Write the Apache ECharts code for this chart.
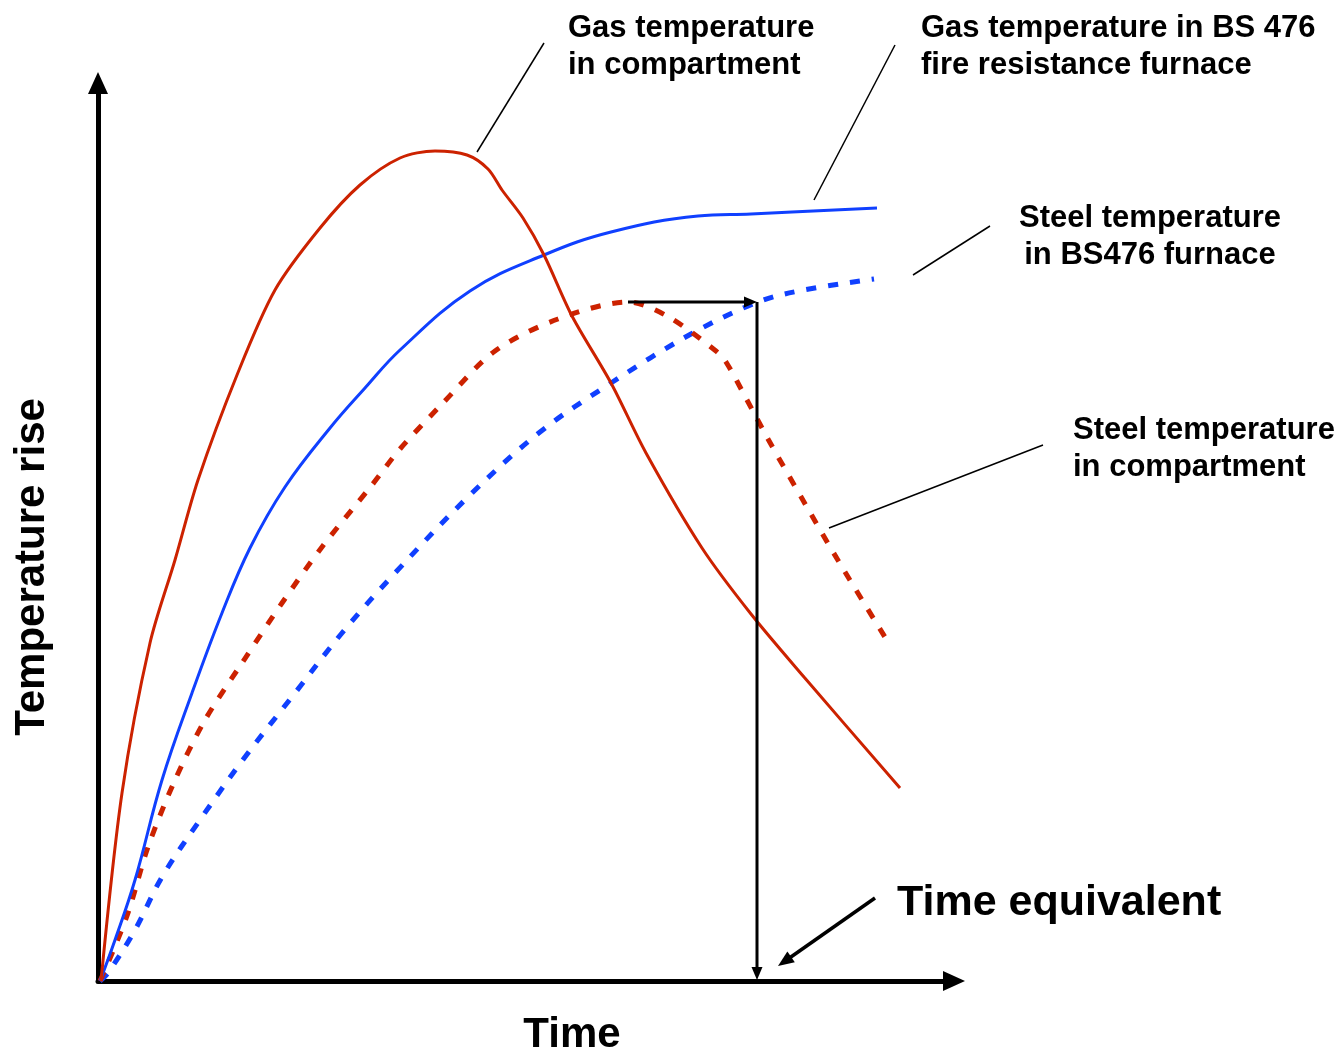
<!DOCTYPE html>
<html><head><meta charset="utf-8">
<script src="https://cdn.jsdelivr.net/npm/echarts@6/dist/echarts.min.js"></script>
<style>html,body{margin:0;padding:0;background:#fff}#c{width:1341px;height:1054px}</style>
</head><body><div id="c"></div>
<script>
// Data in arbitrary units (time, temperature rise)
const gasCompartment = [[0.3,0],[2.4,18.8],[5.2,33.8],[7.7,42.1],[10,50.1],[13.9,60.6],[17.7,69.1],[22.2,75.3],[26.2,79.6],[30.2,82.3],[33.7,83],[36.9,82.6],[39,81.2],[40.4,79.1],[42.5,76.3],[44.6,72.6],[47.4,66.5],[51.3,59.8],[54.8,52.8],[60.4,43.3],[65.3,36.7],[70.6,30.4],[80.2,19.3]];
const gasFurnace = [[0.2,0],[1.7,4.1],[3.7,10.1],[6.4,20.1],[9.4,28.8],[12.4,36.8],[15.2,43.3],[18.7,49.4],[23.2,55.3],[26.7,59.3],[30.2,63.1],[37.2,69],[44.6,72.6],[51.3,74.9],[60,76.5],[65.3,76.7],[77.9,77.3]];
const steelFurnace = [[0.2,0],[1,0.8],[3.7,5.1],[6.4,10.4],[10.4,16.4],[14.7,22.4],[19.7,28.8],[24.4,34.8],[29.7,40.8],[37.2,48.6],[44.2,54.9],[51.3,59.8],[59.3,64.7],[66,67.9],[70.6,69.1],[77.6,70.2]];
const steelCompartment = [[0.2,0],[1,1.8],[3,6.8],[5,13.4],[7.7,20.1],[10.7,26.1],[14.4,31.8],[18.4,37.8],[22.4,43.4],[27.4,49.6],[30.2,53.2],[34.4,57.7],[39.7,63],[46,66.2],[53,67.9],[56.9,66.5],[61.8,63],[62.8,61.9],[64.9,58.1],[67,54.2],[70.6,47.9],[74.1,41.9],[79,33.9]];

// Annotation geometry (data units)
const arrows = [
  {from:[53,67.9], to:[65.9,67.9], w:3, head:[13,11]},
  {from:[65.9,67.9], to:[65.9,0.1], w:3, head:[13,11]},
  {from:[77.7,8.3], to:[68.0,1.5], w:3.5, head:[16,13]}
];
const leaders = [
  [[44.6,93.8],[37.9,82.9]],
  [[79.7,93.6],[71.6,78.1]],
  [[89.2,75.5],[81.5,70.6]],
  [[94.5,53.6],[73.1,45.3]]
];
const labels = [
  {lines:['Gas temperature','in compartment'], x:568, y:28, align:'left', size:31},
  {lines:['Gas temperature in BS 476','fire resistance furnace'], x:921, y:28, align:'left', size:31},
  {lines:['Steel temperature','in BS476 furnace'], x:1150, y:218, align:'center', size:31},
  {lines:['Steel temperature','in compartment'], x:1073, y:430, align:'left', size:31},
  {lines:['Time equivalent'], x:897, y:903, align:'left', size:43}
];

const RED = '#cc2200', BLUE = '#1040ff';
const chart = echarts.init(document.getElementById('c'));
const axisCommon = {
  type:'value', min:0,
  axisLine:{show:true, symbol:['none','triangle'], symbolSize:[20,22], lineStyle:{color:'#000', width:5}},
  axisTick:{show:false}, axisLabel:{show:false}, splitLine:{show:false}
};
chart.setOption({
  animation:false,
  grid:{left:98, top:83, right:387, bottom:73, containLabel:false},
  xAxis:Object.assign({}, axisCommon, {max:85.6}),
  yAxis:Object.assign({}, axisCommon, {max:89.8}),
  series:[
    {type:'line', data:steelFurnace, showSymbol:false, smooth:0.35, lineStyle:{color:BLUE, width:5, type:[10,12]}},
    {type:'line', data:steelCompartment, showSymbol:false, smooth:0.3, lineStyle:{color:RED, width:5, type:[10,12]}},
    {type:'line', data:gasFurnace, showSymbol:false, smooth:0.4, lineStyle:{color:BLUE, width:3}},
    {type:'line', data:gasCompartment, showSymbol:false, smooth:0.3, lineStyle:{color:RED, width:3}}
  ]
});

const px = p => chart.convertToPixel({gridIndex:0}, p);
const g = [];
arrows.forEach(a => {
  const p0 = px(a.from), p1 = px(a.to);
  const dx = p1[0]-p0[0], dy = p1[1]-p0[1], L = Math.hypot(dx,dy);
  const ux = dx/L, uy = dy/L, nx = -uy, ny = ux;
  const hl = a.head[0], hw = a.head[1]/2;
  const b = [p1[0]-ux*hl, p1[1]-uy*hl];
  g.push({type:'line', shape:{x1:p0[0], y1:p0[1], x2:b[0]+ux*2, y2:b[1]+uy*2}, style:{stroke:'#000', lineWidth:a.w}, z:10});
  g.push({type:'polygon', shape:{points:[[p1[0],p1[1]],[b[0]+nx*hw,b[1]+ny*hw],[b[0]-nx*hw,b[1]-ny*hw]]}, style:{fill:'#000'}, z:10});
});
leaders.forEach(l => {
  const p0 = px(l[0]), p1 = px(l[1]);
  g.push({type:'line', shape:{x1:p0[0], y1:p0[1], x2:p1[0], y2:p1[1]}, style:{stroke:'#000', lineWidth:1.5}, z:10});
});
const FONT = '"Liberation Sans", Arial, Helvetica, sans-serif';
labels.forEach(t => {
  t.lines.forEach((s,i) => {
    g.push({type:'text', x:t.x, y:t.y + i*37, style:{text:s, font:'bold '+t.size+'px '+FONT, fill:'#000', textAlign:t.align, textVerticalAlign:'middle'}, z:10});
  });
});
g.push({type:'text', x:572, y:1035, style:{text:'Time', font:'bold 42px '+FONT, fill:'#000', textAlign:'center', textVerticalAlign:'middle'}});
g.push({type:'text', x:32, y:567, rotation:Math.PI/2, style:{text:'Temperature rise', font:'bold 42px '+FONT, fill:'#000', textAlign:'center', textVerticalAlign:'middle'}});
chart.setOption({graphic:g});
</script>
</body></html>
